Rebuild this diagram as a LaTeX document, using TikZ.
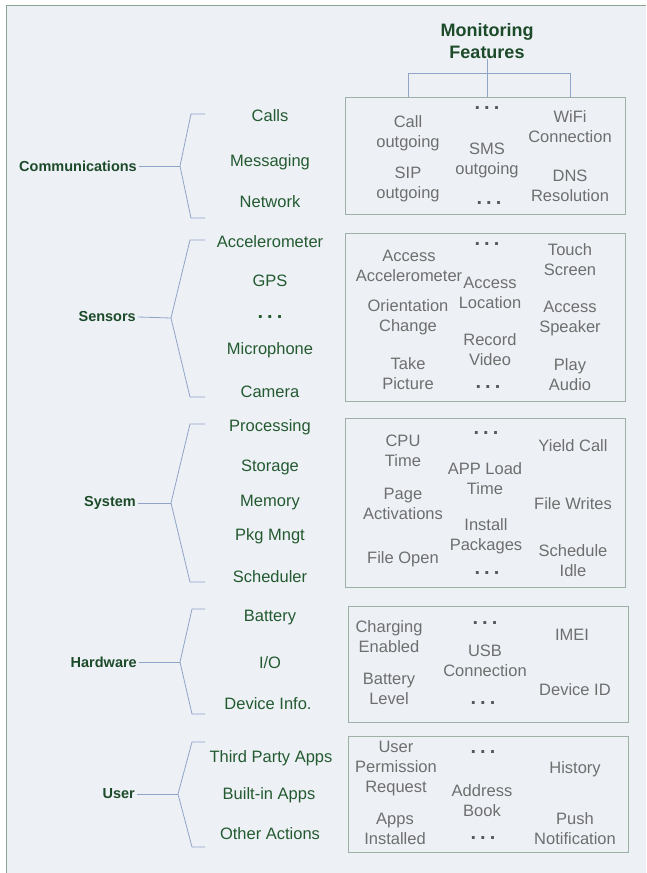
\documentclass[tikz,border=0pt]{standalone}
\usepackage{fontspec}
\setmainfont{Liberation Sans}
\usetikzlibrary{positioning}

\definecolor{catgreen}{HTML}{1D4B2A}
\definecolor{itemgreen}{HTML}{245A30}
\definecolor{featgrey}{HTML}{6E6E6E}
\definecolor{boxline}{HTML}{9CB0A6}
\definecolor{braceblue}{HTML}{90A4C8}
\definecolor{frameline}{HTML}{8CA393}
\definecolor{paper}{HTML}{EDF1F6}

\newcommand{\gdots}{{\fontsize{20}{20}\selectfont\bfseries .\hspace{4pt}.\hspace{4pt}.}}

\begin{document}
\begin{tikzpicture}[x=1pt, y=-1pt,
                    cat node/.style={font=\fontsize{14.5}{17}\selectfont\bfseries, text=catgreen, anchor=east, inner sep=2pt},
                    item node/.style={font=\fontsize{16.5}{20}\selectfont, text=itemgreen, inner sep=0pt},
                    feat node/.style={font=\fontsize{16.5}{20}\selectfont, text=featgrey, align=center, inner sep=0pt},
                    dots node/.style={feat node, text=featgrey!80!black},
                    panel/.style={draw=boxline, line width=1.2pt, anchor=north west, inner sep=0pt},
                    brace/.style={draw=braceblue, line width=0.8pt},
                    tree/.style={draw=braceblue, line width=0.9pt}]

  \useasboundingbox (0,0) rectangle (646,873);
  \fill[paper] (6,5) rectangle (646,873);
  \draw[frameline, line width=1.5pt] (6.5,873) -- (6.5,5.5) -- (646,5.5);

  % title and tree
  \node[font=\fontsize{18}{22}\selectfont\bfseries, text=catgreen, align=center, inner sep=0pt] (title) at (487,41) {Monitoring\\Features};

  % panels
  \node[panel, minimum width=280pt, minimum height=117pt] (commbox) at (345,97) {};
  \node[panel, minimum width=280pt, minimum height=168pt] (sensbox) at (345,233) {};
  \node[panel, minimum width=280pt, minimum height=169pt] (sysbox) at (345,418) {};
  \node[panel, minimum width=280pt, minimum height=116pt] (hwbox) at (348,606) {};
  \node[panel, minimum width=280pt, minimum height=116pt] (userbox) at (348,736) {};

  \coordinate (treel) at (408,73);
  \coordinate (treer) at (570,73);
  \draw[tree] (title.south) -- (title.south |- commbox.north);
  \draw[tree] (treel |- commbox.north) -- (treel) -- (treer) -- (treer |- commbox.north);

  % Communications
  \node[cat node] (comm) at (139,166) {Communications};
  \node[item node] (calls) at (270,116) {Calls};
  \node[item node] (msg) at (270,162) {Messaging};
  \node[item node] (net) at (270,202) {Network};
  \coordinate (commtip) at (180,166);
  \draw[brace] (comm.east) -- (commtip);
  \draw[brace] (205,114) -- (191,114) -- (commtip) -- (191,218) -- (205,218);

  \node[feat node] (callout) at (408,133) {Call\\outgoing};
  \node[dots node] (commd1) at (487,108) {\gdots};
  \node[feat node] (wifi) at (570,127) {WiFi\\Connection};
  \node[feat node] (sms) at (487,160) {SMS\\outgoing};
  \node[feat node] (sip) at (408,184) {SIP\\outgoing};
  \node[feat node] (dns) at (570,186) {DNS\\Resolution};
  \node[dots node] (commd2) at (489,203) {\gdots};

  % Sensors
  \node[cat node] (sens) at (138,317) {Sensors};
  \node[item node] (accel) at (270,242) {Accelerometer};
  \node[item node] (gps) at (270,281) {GPS};
  \node[item node] (sensd) at (270,317) {\gdots};
  \node[item node] (micro) at (270,350) {Microphone};
  \node[item node] (cam) at (270,392) {Camera};
  \coordinate (senstip) at (171,318);
  \draw[brace] (sens.east) -- (senstip);
  \draw[brace] (205,240) -- (190,240) -- (senstip) -- (190,397) -- (205,397);

  \node[dots node] (sensd1) at (487,244) {\gdots};
  \node[feat node] (accacc) at (409,266) {Access\\Accelerometer};
  \node[feat node] (touch) at (570,260) {Touch\\Screen};
  \node[feat node] (accloc) at (490,293) {Access\\Location};
  \node[feat node] (orient) at (408,317) {Orientation\\Change};
  \node[feat node] (accspk) at (570,319) {Access\\Speaker};
  \node[feat node] (recvid) at (490,350) {Record\\Video};
  \node[feat node] (takepic) at (408,374) {Take\\Picture};
  \node[feat node] (play) at (570,375) {Play\\Audio};
  \node[dots node] (sensd2) at (488,387) {\gdots};

  % System
  \node[cat node] (sys) at (138,503) {System};
  \node[item node] (proc) at (270,427) {Processing};
  \node[item node] (stor) at (270,467) {Storage};
  \node[item node] (mem) at (270,503) {Memory};
  \node[item node] (pkg) at (270,536) {Pkg Mngt};
  \node[item node] (sched) at (270,577) {Scheduler};
  \coordinate (systip) at (171,503);
  \draw[brace] (sys.east) -- (systip);
  \draw[brace] (205,424) -- (190,424) -- (systip) -- (190,582) -- (205,582);

  \node[feat node] (cpu) at (403,451) {CPU\\Time};
  \node[dots node] (sysd1) at (486,433) {\gdots};
  \node[feat node] (yield) at (573,446) {Yield Call};
  \node[feat node] (appload) at (485,479) {APP Load\\Time};
  \node[feat node] (pageact) at (403,504) {Page\\Activations};
  \node[feat node] (fwrite) at (573,504) {File Writes};
  \node[feat node] (instpkg) at (486,536) {Install\\Packages};
  \node[feat node] (fopen) at (403,559) {File Open};
  \node[feat node] (schidle) at (573,561) {Schedule\\Idle};
  \node[dots node] (sysd2) at (487,573) {\gdots};

  % Hardware
  \node[cat node] (hw) at (139,662) {Hardware};
  \node[item node] (batt) at (270,618) {Battery};
  \node[item node] (io) at (270,663) {I/O};
  \node[item node] (devinfo) at (268,704) {Device Info.};
  \coordinate (hwtip) at (180,662);
  \draw[brace] (hw.east) -- (hwtip);
  \draw[brace] (205,609) -- (192,609) -- (hwtip) -- (192,714) -- (205,714);

  \node[feat node] (charge) at (389,637) {Charging\\Enabled};
  \node[dots node] (hwd1) at (485,623) {\gdots};
  \node[feat node] (imei) at (572,635) {IMEI};
  \node[feat node] (usb) at (485,661) {USB\\Connection};
  \node[feat node] (battlvl) at (389,689) {Battery\\Level};
  \node[feat node] (devid) at (575,690) {Device ID};
  \node[dots node] (hwd2) at (483,703) {\gdots};

  % User
  \node[cat node] (user) at (137,794) {User};
  \node[item node] (third) at (271,758) {Third Party Apps};
  \node[item node] (builtin) at (269,795) {Built-in Apps};
  \node[item node] (other) at (270,834) {Other Actions};
  \coordinate (usertip) at (178,794);
  \draw[brace] (user.east) -- (usertip);
  \draw[brace] (205,742) -- (192,742) -- (usertip) -- (192,847) -- (205,847);

  \node[feat node] (perm) at (396,769) {User\\Permission\\Request};
  \node[dots node] (userd1) at (483,752) {\gdots};
  \node[feat node] (hist) at (575,769) {History};
  \node[feat node] (addr) at (482,801) {Address\\Book};
  \node[feat node] (apps) at (395,829) {Apps\\Installed};
  \node[feat node] (push) at (575,829) {Push\\Notification};
  \node[dots node] (userd2) at (483,838) {\gdots};

\end{tikzpicture}
\end{document}
